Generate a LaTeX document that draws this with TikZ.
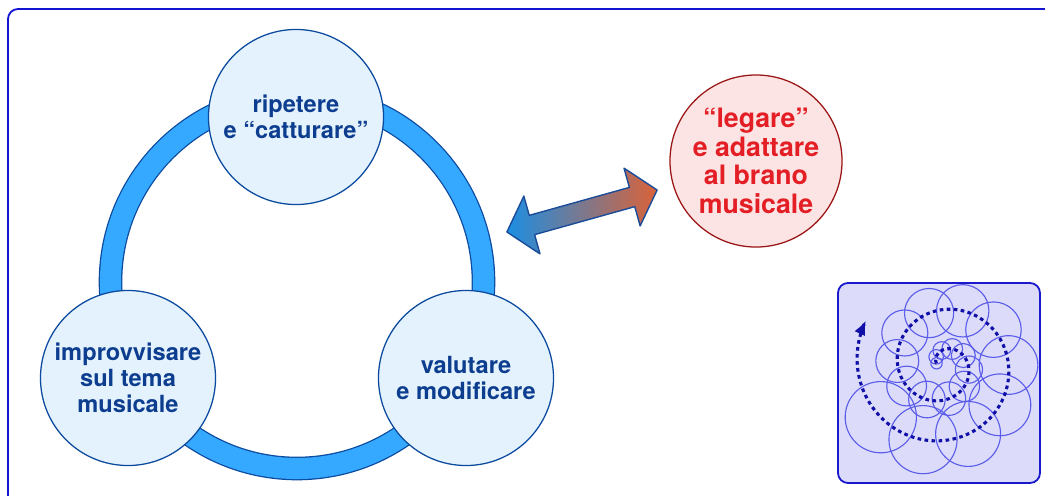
\documentclass[tikz,border=0pt]{standalone}
\usepackage{fontspec}
\setmainfont{TeX Gyre Heros}
\usepackage{tikz}
\usetikzlibrary{arrows.meta,positioning,calc}
\definecolor{frameblue}{HTML}{1414D2}
\definecolor{ringblue}{HTML}{35A8FF}
\definecolor{ringline}{HTML}{0B4A9E}
\definecolor{stagefill}{HTML}{E3F2FD}
\definecolor{stagetext}{HTML}{0D3D8F}
\definecolor{goalfill}{HTML}{FDE4E4}
\definecolor{goalline}{HTML}{9A1515}
\definecolor{goaltext}{HTML}{E31E24}
\definecolor{linkleft}{HTML}{1C8EE3}
\definecolor{linkright}{HTML}{DB6238}
\definecolor{linkline}{HTML}{1A4C9A}
\definecolor{insetfill}{HTML}{DCDCFA}
\definecolor{insetline}{HTML}{1A1ACC}
\definecolor{petalblue}{HTML}{5C5CEA}
\definecolor{spiralblue}{HTML}{1010A8}
\tikzset{
    every picture/.style={line cap=round,line join=round},
    frame/.style={draw=frameblue,line width=1.3pt,rounded corners=2.5mm},
    loopring/.style={draw=ringline,double=ringblue,double distance=15pt,
      line width=0.9pt},
    stagenode/.style={circle,draw=ringline,fill=stagefill,line width=0.9pt,
      minimum size=4.375cm,inner sep=0pt,align=center,text=stagetext,
      font=\fontsize{16.8}{18.6}\selectfont\bfseries},
    goalnode/.style={circle,draw=goalline,fill=goalfill,line width=0.9pt,
      minimum size=4.3cm,inner sep=0pt,align=center,text=goaltext,
      font=\fontsize{19}{20.4}\selectfont\bfseries},
    linkarrow/.style={draw=linkline,line width=1pt,left color=linkleft,
      right color=linkright},
    insetbox/.style={draw=insetline,fill=insetfill,line width=1.3pt,
      rounded corners=2.5mm},
    petal/.style={draw=petalblue,line width=0.8pt},
    spiraldots/.style={draw=spiralblue,line width=2.2pt,line cap=butt,
      dash pattern=on 2.6pt off 2.4pt,-{Latex[length=3.6mm,width=3mm]}}
}

\begin{document}
\begin{tikzpicture}[x=0.025cm,y=-0.025cm]
  \useasboundingbox (0,0) rectangle (1045,495);
  \draw[frame] (8,9) rectangle (1070,520);

  % the cycle
  \draw[loopring] (297,282) circle (186.5);
  \node[stagenode] (repeat) at (296,117) {ripetere\\e “catturare”};
  \node[stagenode] (improv) at (128,378) {improvvisare\\sul tema\\musicale};
  \node[stagenode] (evaluate) at (466,378) {valutare\\e modificare};

  % goal on the right
  \node[goalnode] (bind) at (756,161) {“legare”\\e adattare\\al brano\\musicale};

  % two-way arrow between cycle and goal
  \begin{scope}[shift={(582,211)},rotate=15.6]
    \path[linkarrow] (-78,0) -- (-52,-30) -- (-52,-10) -- (52,-10) -- (52,-30)
      -- (78,0) -- (52,30) -- (52,10) -- (-52,10) -- (-52,30) -- cycle;
  \end{scope}

  % inset with the spiral
  \draw[insetbox] (838,283) rectangle (1040,483);
  \begin{scope}[shift={(943,365)},yscale=-1]
    \foreach \t in {60,95,...,725}
      \draw[petal] ({225-\t}:{0.112*\t}) circle ({0.045*\t+3});
    \draw[spiraldots] plot[domain=60:795,samples=220,smooth]
      ({225-\x}:{0.112*\x});
  \end{scope}
\end{tikzpicture}
\end{document}
